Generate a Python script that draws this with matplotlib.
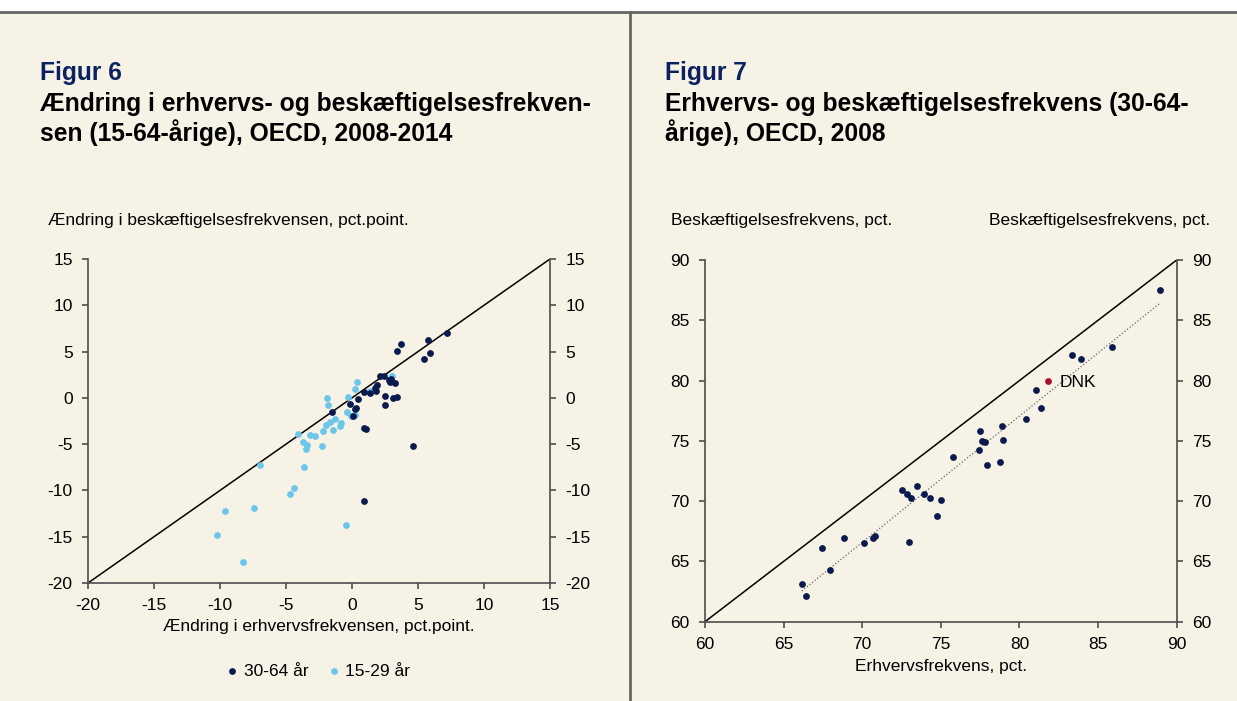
import numpy as np
import matplotlib
matplotlib.use("Agg")
import matplotlib.pyplot as plt

plt.rcParams['font.family'] = ['Liberation Sans', 'DejaVu Sans']
plt.rcParams['axes.unicode_minus'] = False

# Figur 6: change 2008-2014, (participation change, employment change)
old_x = [7.16, 5.75, 3.71, 3.43, 5.93, 5.47, 2.09, 2.40, 2.77, 2.87, 3.23, 2.98,
         1.89, 1.77, 1.82, 1.39, 0.91, 2.47, 3.08, 3.43, 2.47, 0.43, -0.13, 0.33,
         0.20, -1.49, 0.05, 0.88, 1.08, 4.61, 0.91]
old_y = [7.00, 6.20, 5.81, 5.03, 4.88, 4.20, 2.40, 2.40, 1.96, 1.71, 1.57, 2.04,
         1.42, 1.06, 0.71, 0.53, 0.67, 0.24, -0.05, 0.13, -0.81, -0.16, -0.66, -1.13,
         -1.20, -1.49, -2.00, -3.22, -3.36, -5.20, -11.18]
young_x = [0.35, 0.25, -1.89, -1.79, -0.30, 1.39, 3.05, -0.40, -0.08, 0.25, -1.31,
           -1.64, -1.99, -0.83, -0.93, -1.41, -2.17, -4.11, -3.18, -2.82, -3.71,
           -3.40, -3.48, -2.24, -6.98, -3.66, -4.39, -4.69, -9.63, -7.39, -0.48,
           -10.19, -8.22]
young_y = [1.71, 0.92, -0.01, -0.81, 0.13, 0.78, 2.33, -1.49, -2.00, -1.89, -2.32,
           -2.57, -2.93, -2.68, -3.08, -3.51, -3.62, -3.87, -4.01, -4.16, -4.77,
           -5.06, -5.49, -5.20, -7.22, -7.47, -9.74, -10.39, -12.26, -11.86, -13.69,
           -14.77, -17.69]

# Figur 7: 2008 levels, 30-64 year olds
part_rate = [88.96, 85.91, 83.34, 83.89, 81.05, 81.37, 80.44, 78.89, 77.47, 77.62,
             77.79, 78.95, 77.40, 77.94, 78.78, 75.75, 73.48, 72.53, 72.87, 73.08,
             73.95, 74.33, 74.99, 74.73, 68.86, 70.11, 70.66, 70.83, 72.99, 67.46,
             67.95, 66.15, 66.44]
emp_rate = [87.54, 82.76, 82.12, 81.82, 79.19, 77.75, 76.81, 76.23, 75.82, 75.02,
            74.88, 75.10, 74.27, 72.97, 73.27, 73.69, 71.23, 70.95, 70.59, 70.29,
            70.62, 70.29, 70.09, 68.79, 66.97, 66.53, 66.94, 67.14, 66.64, 66.14,
            64.29, 63.10, 62.16]
dnk_x, dnk_y = 81.79, 79.94

bg = '#F6F2E6'
navy = '#0B1A4E'
light = '#6CC6EA'
spine_col = '#4d4d4d'
W, H = 1237, 701
fs = 12.5
tfs = 17.7

fig = plt.figure(figsize=(12.37, 7.01), dpi=100, facecolor=bg)


def fx(px):
    return px / W


def fy(py):
    return 1 - py / H


# white strip on top, grey rule and divider
fig.patches.append(plt.Rectangle((0, fy(11)), 1, 11 / H, transform=fig.transFigure,
                                 color='white', zorder=0))
fig.add_artist(plt.Line2D([0, 1], [fy(12), fy(12)], color='#666666', lw=2))
fig.add_artist(plt.Line2D([fx(630), fx(630)], [0, fy(12)], color='#666666', lw=2))


def style(ax):
    ax.set_facecolor(bg)
    ax.spines['top'].set_visible(False)
    for s in ['left', 'right', 'bottom']:
        ax.spines[s].set_color(spine_col)
        ax.spines[s].set_linewidth(1.2)
    ax.tick_params(direction='out', length=4, width=1.2, color=spine_col,
                   labelsize=fs, right=True, labelright=True, pad=7)


# Figur 6
ax1 = fig.add_axes([fx(88), fy(583), fx(550 - 88), (583 - 259) / H])
style(ax1)
ax1.plot([-20, 15], [-20, 15], color='black', lw=1.1, zorder=1)
ax1.scatter(old_x, old_y, s=24, color=navy, zorder=3, label='30-64 år', linewidths=0)
ax1.scatter(young_x, young_y, s=24, color=light, zorder=2, label='15-29 år', linewidths=0)
ax1.set_xlim(-20, 15)
ax1.set_ylim(-20, 15)
ax1.set_xticks(np.arange(-20, 16, 5))
ax1.set_yticks(np.arange(-20, 16, 5))
ax1.set_xlabel('Ændring i erhvervsfrekvensen, pct.point.', fontsize=fs, labelpad=4)
leg = ax1.legend(loc='upper center', bbox_to_anchor=(0.5, -0.2), ncol=2, frameon=False,
                 fontsize=fs, handlelength=0.5, handletextpad=0.4, columnspacing=1.2,
                 markerscale=1.0)

fig.text(fx(48), fy(220), 'Ændring i beskæftigelsesfrekvensen, pct.point.', fontsize=fs,
         va='center', ha='left')
fig.text(fx(40), fy(73), 'Figur 6', fontsize=tfs, fontweight='bold', color='#0B2160',
         va='center')
fig.text(fx(40), fy(104), 'Ændring i erhvervs- og beskæftigelsesfrekven-', fontsize=tfs,
         fontweight='bold', va='center')
fig.text(fx(40), fy(133), 'sen (15-64-årige), OECD, 2008-2014', fontsize=tfs,
         fontweight='bold', va='center')

# Figur 7
ax2 = fig.add_axes([fx(705), fy(621.7), fx(1176.7 - 705), (621.7 - 260) / H])
style(ax2)
ax2.plot([60, 90], [60, 90], color='black', lw=1.1, zorder=1)
all_x = np.array(part_rate + [dnk_x])
all_y = np.array(emp_rate + [dnk_y])
b, a = np.polyfit(all_x, all_y, 1)
xs = np.array([all_x.min(), all_x.max()])
ax2.plot(xs, a + b * xs, color='#666666', lw=0.9, ls=':', zorder=2)
ax2.scatter(part_rate, emp_rate, s=24, color=navy, zorder=3, linewidths=0)
ax2.scatter([dnk_x], [dnk_y], s=24, color='#A5122B', zorder=3, linewidths=0)
ax2.annotate('DNK', (dnk_x, dnk_y), xytext=(9, -1), textcoords='offset points',
             fontsize=fs, va='center')
ax2.set_xlim(60, 90)
ax2.set_ylim(60, 90)
ax2.set_xticks(np.arange(60, 91, 5))
ax2.set_yticks(np.arange(60, 91, 5))
ax2.set_xlabel('Erhvervsfrekvens, pct.', fontsize=fs, labelpad=5)

fig.text(fx(671), fy(220), 'Beskæftigelsesfrekvens, pct.', fontsize=fs, va='center',
         ha='left')
fig.text(fx(1210), fy(220), 'Beskæftigelsesfrekvens, pct.', fontsize=fs, va='center',
         ha='right')
fig.text(fx(665), fy(73), 'Figur 7', fontsize=tfs, fontweight='bold', color='#0B2160',
         va='center')
fig.text(fx(665), fy(104), 'Erhvervs- og beskæftigelsesfrekvens (30-64-', fontsize=tfs,
         fontweight='bold', va='center')
fig.text(fx(665), fy(133), 'årige), OECD, 2008', fontsize=tfs, fontweight='bold',
         va='center')

fig.savefig('out.png', dpi=100, facecolor=bg)
